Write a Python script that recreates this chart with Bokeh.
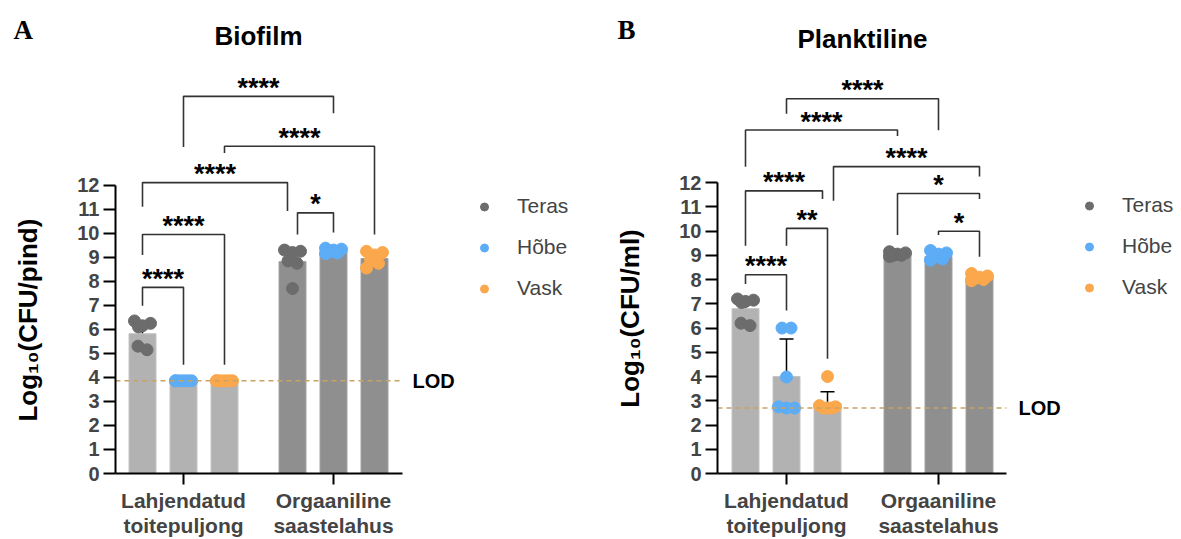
import numpy as np
from bokeh.plotting import figure
from bokeh.layouts import row, column
from bokeh.models import (ColumnDataSource, FixedTicker, Whisker, TeeHead, Legend,
                          LegendItem, Range1d)
from bokeh.core.properties import value
from bokeh.embed import file_html
from bokeh.resources import INLINE

# ---------------- DATA ----------------
groups = ["Lahjendatud\ntoitepuljong", "Orgaaniline\nsaastelahus"]
materials = ["Teras", "Hõbe", "Vask"]
panel_letters = ["A", "B"]
panel_titles = ["Biofilm", "Planktiline"]
y_labels = ["Log₁₀(CFU/pind)", "Log₁₀(CFU/ml)"]

# Panel A - Biofilm  (bar order: Lahj Teras, Hõbe, Vask, Org Teras, Hõbe, Vask)
bio_mean = [5.82, 3.86, 3.86, 8.82, 9.24, 8.95]
bio_sd = [0.37, 0.0, 0.0, 0.37, 0.05, 0.24]
bio_lod = 3.86
bio_teras_lahj = [6.35, 6.25, 6.15, 6.10, 5.30, 5.15]
bio_hobe_lahj = [3.86, 3.86, 3.86, 3.86, 3.86, 3.86]
bio_vask_lahj = [3.86, 3.86, 3.86, 3.86, 3.86, 3.86]
bio_teras_org = [9.30, 9.25, 9.20, 8.85, 8.75, 7.70]
bio_hobe_org = [9.38, 9.34, 9.30, 9.22, 9.18, 9.15]
bio_vask_org = [9.25, 9.20, 9.10, 8.90, 8.75, 8.55]
# (left bar, right bar, bracket level, left leg end, right leg end, label)
bio_brackets = [
    (0, 1, 7.75, 6.98, 4.53, "****"),
    (0, 2, 9.95, 9.10, 4.53, "****"),
    (0, 3, 12.11, 11.10, 10.93, "****"),
    (3, 4, 10.85, 9.95, 10.03, "*"),
    (2, 5, 13.62, 13.34, 9.95, "****"),
    (1, 4, 15.70, 13.59, 15.00, "****"),
]

# Panel B - Planktiline
plank_mean = [6.80, 4.00, 2.90, 9.05, 8.95, 8.11]
plank_sd = [0.34, 1.55, 0.47, 0.12, 0.12, 0.11]
plank_lod = 2.70
plank_teras_lahj = [7.20, 7.15, 7.10, 7.05, 6.20, 6.10]
plank_hobe_lahj = [6.00, 6.00, 3.98, 2.75, 2.70, 2.70]
plank_vask_lahj = [4.00, 2.80, 2.75, 2.70, 2.70, 2.70]
plank_teras_org = [9.15, 9.10, 9.05, 9.00, 9.00, 8.95]
plank_hobe_org = [9.20, 9.10, 9.05, 8.95, 8.85, 8.80]
plank_vask_org = [8.25, 8.15, 8.10, 8.05, 8.00, 7.95]
plank_brackets = [
    (0, 1, 8.20, 7.82, 6.72, "****"),
    (1, 2, 10.11, 9.40, 4.73, "**"),
    (0, 2, 11.66, 9.40, 11.32, "****"),
    (0, 3, 14.17, 12.65, 13.92, "****"),
    (1, 4, 15.46, 14.84, 14.16, "****"),
    (2, 5, 12.66, 11.25, 12.25, "****"),
    (3, 5, 11.55, 9.84, 11.32, "*"),
    (4, 5, 9.99, 9.84, 8.94, "*"),
]

# ---------------- STYLE / LAYOUT ----------------
FONT = "Liberation Sans"
PAGE_H = 539
HEAD_H = 56
MAIN_H = PAGE_H - HEAD_H
Y0 = 474                      # page y of the x axis (frames of a row are aligned)
mat_colors = ["#6c6c6c", "#5dacf6", "#fba84d"]
bar_fill = ["#b2b2b2", "#8f8f8f"]
bar_line = ["#c4c4c4", "#a2a2a2"]
bracket_color = "#333333"
lod_color = "#c9a264"

bio_nudge = [(0, 0), (0, 0), (0, -5), (5, 0), (0, 0), (0, 0)]
plank_nudge = [(0, 0), (0, 0), (0, -5), (0, 0), (0, 0), (6, 0), (0, 0), (0, 0)]

layout_A = dict(strip_left=0, strip_w=45, width=553, frame_left=115, axis_end=402,
                g1=183, g2=333, pxy=24.08, legend_left=464, legend_top=174.5,
                lod_x=412, letter_x=13, letter_mid=29, title_x=258, title_mid=35,
                ylab_x=27.5, ylab_start=422)
layout_B = dict(strip_left=598, strip_w=47, width=535, frame_left=717, axis_end=1006,
                g1=786, g2=938, pxy=24.3, legend_left=1069, legend_top=173.5,
                lod_x=1018, letter_x=617, letter_mid=29, title_x=862, title_mid=38,
                ylab_x=629.5, ylab_start=408)
for _L in (layout_A, layout_B):
    _L["page_left"] = _L["strip_left"] + _L["strip_w"]

SWARM = [-8, 8, 0, -4, 4, -8, 8, 0]


def jitter(vals, px_per_unit):
    """Spread points with similar values side by side (beeswarm-like), in data units."""
    order = np.argsort(vals)[::-1]
    offs = np.zeros(len(vals))
    clusters, cur = [], [order[0]]
    for a, b in zip(order[:-1], order[1:]):
        if abs(vals[a] - vals[b]) < 0.3:
            cur.append(b)
        else:
            clusters.append(cur)
            cur = [b]
    clusters.append(cur)
    for c in clusters:
        n = len(c)
        if n == 1:
            pos = [0.0]
        elif n == 2:
            pos = [-4.5, 4.5]
        else:
            pos = SWARM[:n]
        for i, k in enumerate(c):
            offs[k] = pos[i] / px_per_unit
    return offs


def bare(width, height, xr, yr, bottom=0):
    f = figure(width=width, height=height, x_range=xr, y_range=yr, output_backend="svg",
               toolbar_location=None, x_axis_location=None, y_axis_location=None,
               min_border_left=0, min_border_right=0, min_border_top=0,
               min_border_bottom=bottom)
    f.outline_line_color = None
    f.grid.visible = False
    return f


def strip(label, L):
    # frame aligned with the main plots: page y from HEAD_H to Y0 (y given in page pixels)
    s = bare(L["strip_w"], MAIN_H, Range1d(L["strip_left"], L["page_left"]),
             Range1d(Y0, HEAD_H), bottom=MAIN_H - (Y0 - HEAD_H))
    s.text([L["ylab_x"]], [L["ylab_start"]], text=[label], angle=np.pi / 2,
           text_font=value(FONT), text_font_style="bold", text_font_size="26px",
           text_align="left", text_baseline="middle", text_color="black")
    return s


def build(means, sds, pts, lod, brackets, nudges, L):
    pxu = L["g2"] - L["g1"]

    def dx(px):
        return 1 + (px - L["g1"]) / pxu

    x0, x1 = dx(L["frame_left"]), dx(L["page_left"] + L["width"])
    frame_h = Y0 - HEAD_H
    p = figure(width=L["width"], height=MAIN_H, x_range=Range1d(x0, x1),
               y_range=Range1d(0, frame_h / L["pxy"]),
               output_backend="svg", toolbar_location=None,
               min_border_left=L["frame_left"] - L["page_left"], min_border_right=0,
               min_border_top=0, min_border_bottom=MAIN_H - frame_h)
    p.outline_line_color = None
    p.grid.visible = False

    step = 41 / pxu
    bar_x = [(g + 1) + (m - 1) * step for g in range(2) for m in range(3)]
    src = ColumnDataSource(dict(x=bar_x, top=means,
                                fill=[bar_fill[0]] * 3 + [bar_fill[1]] * 3,
                                line=[bar_line[0]] * 3 + [bar_line[1]] * 3))
    p.vbar(x="x", top="top", bottom=0, width=27 / pxu, fill_color="fill", line_color="line",
           line_width=1, source=src)

    rends = []
    for m in range(3):
        xs, ys = [], []
        for g in range(2):
            v = np.array(pts[m][g])
            xs += list(bar_x[g * 3 + m] + jitter(v, pxu))
            ys += list(v)
        r = p.scatter(xs, ys, size=12, fill_color=mat_colors[m], line_color=mat_colors[m])
        rends.append(r)

    # LOD
    p.line([x0, dx(L["axis_end"])], [lod, lod], line_color=lod_color, line_width=1.5,
           line_dash="5 4")
    p.text([dx(L["lod_x"])], [lod], text=["LOD"], text_font=value(FONT), text_font_style="bold",
           text_font_size="20px", text_baseline="middle", text_align="left", text_color="black")

    # error bars (mean ± SD)
    keep = [i for i in range(6) if sds[i] > 0]
    wsrc = ColumnDataSource(dict(base=[bar_x[i] for i in keep],
                                 upper=[means[i] + sds[i] for i in keep],
                                 lower=[means[i] - sds[i] for i in keep]))
    p.add_layout(Whisker(source=wsrc, base="base", upper="upper", lower="lower",
                         dimension="height", line_color="black", line_width=1.5,
                         upper_head=TeeHead(size=14, line_color="black", line_width=1.5),
                         lower_head=TeeHead(size=14, line_color="black", line_width=1.5)))

    # significance brackets
    bxs, bys, tx, ty, tt = [], [], [], [], []
    for (a, b, lvl, la, lb, lab), (na, nb) in zip(brackets, nudges):
        xa = bar_x[a] + na / pxu
        xb = bar_x[b] + nb / pxu
        bxs.append([xa, xa, xb, xb])
        bys.append([la, lvl, lvl, lb])
        tx.append((xa + xb) / 2)
        ty.append(lvl + 8.5 / L["pxy"])
        tt.append(lab)
    p.multi_line(bxs, bys, line_color=bracket_color, line_width=1.6)
    p.text(tx, ty, text=tt, text_font=value(FONT), text_font_style="bold",
           text_font_size="27px", text_align="center", text_baseline="middle",
           text_color="black")

    # legend
    legend = Legend(items=[LegendItem(label=materials[m], renderers=[rends[m]]) for m in range(3)],
                    location=(L["legend_left"] - L["frame_left"] + 10,
                              Y0 - (L["legend_top"] + 127)),
                    border_line_color=None, background_fill_alpha=0, padding=10,
                    glyph_width=20, glyph_height=25, label_height=25, spacing=16,
                    label_standoff=23, label_text_font=FONT, label_text_font_size="21px")
    p.add_layout(legend)

    # axes
    ya = p.yaxis[0]
    ya.ticker = FixedTicker(ticks=list(range(13)))
    ya.bounds = (0, 12)
    ya.axis_line_width = 2
    ya.major_tick_line_width = 2
    ya.major_tick_out = 12
    ya.major_tick_in = 0
    ya.minor_tick_out = 0
    ya.minor_tick_in = 0
    ya.major_label_standoff = 4
    ya.major_label_text_font = FONT
    ya.major_label_text_font_style = "bold"
    ya.major_label_text_font_size = "20px"

    xa_ = p.xaxis[0]
    xa_.ticker = FixedTicker(ticks=[1, 2])
    xa_.major_label_overrides = {1: groups[0], 2: groups[1]}
    xa_.bounds = (x0, dx(L["axis_end"]))
    xa_.axis_line_width = 2
    xa_.major_tick_line_width = 2
    xa_.major_tick_out = 11
    xa_.major_tick_in = 0
    xa_.minor_tick_out = 0
    xa_.minor_tick_in = 0
    xa_.major_label_standoff = 4
    xa_.major_label_text_font = FONT
    xa_.major_label_text_font_style = "bold"
    xa_.major_label_text_font_size = "21px"
    xa_.major_label_text_line_height = 1.1
    return p


# header strip with panel letters and titles
total_w = layout_B["page_left"] + layout_B["width"]
head = bare(total_w, HEAD_H, Range1d(0, total_w), Range1d(HEAD_H, 0))
for L, letter, title in zip([layout_A, layout_B], panel_letters, panel_titles):
    head.text([L["letter_x"]], [L["letter_mid"]], text=[letter],
              text_font=value("Liberation Serif"), text_font_style="bold",
              text_font_size="27px", text_baseline="middle", text_align="left",
              text_color="black")
    head.text([L["title_x"]], [L["title_mid"]], text=[title], text_font=value(FONT),
              text_font_style="bold", text_font_size="26px", text_baseline="middle",
              text_align="center", text_color="black")

pA = build(bio_mean, bio_sd,
           [[bio_teras_lahj, bio_teras_org], [bio_hobe_lahj, bio_hobe_org],
            [bio_vask_lahj, bio_vask_org]],
           bio_lod, bio_brackets, bio_nudge, layout_A)
pB = build(plank_mean, plank_sd,
           [[plank_teras_lahj, plank_teras_org], [plank_hobe_lahj, plank_hobe_org],
            [plank_vask_lahj, plank_vask_org]],
           plank_lod, plank_brackets, plank_nudge, layout_B)
sA = strip(y_labels[0], layout_A)
sB = strip(y_labels[1], layout_B)

page = column(head, row(sA, pA, sB, pB))
open("out.html", "w").write(file_html(page, INLINE))
